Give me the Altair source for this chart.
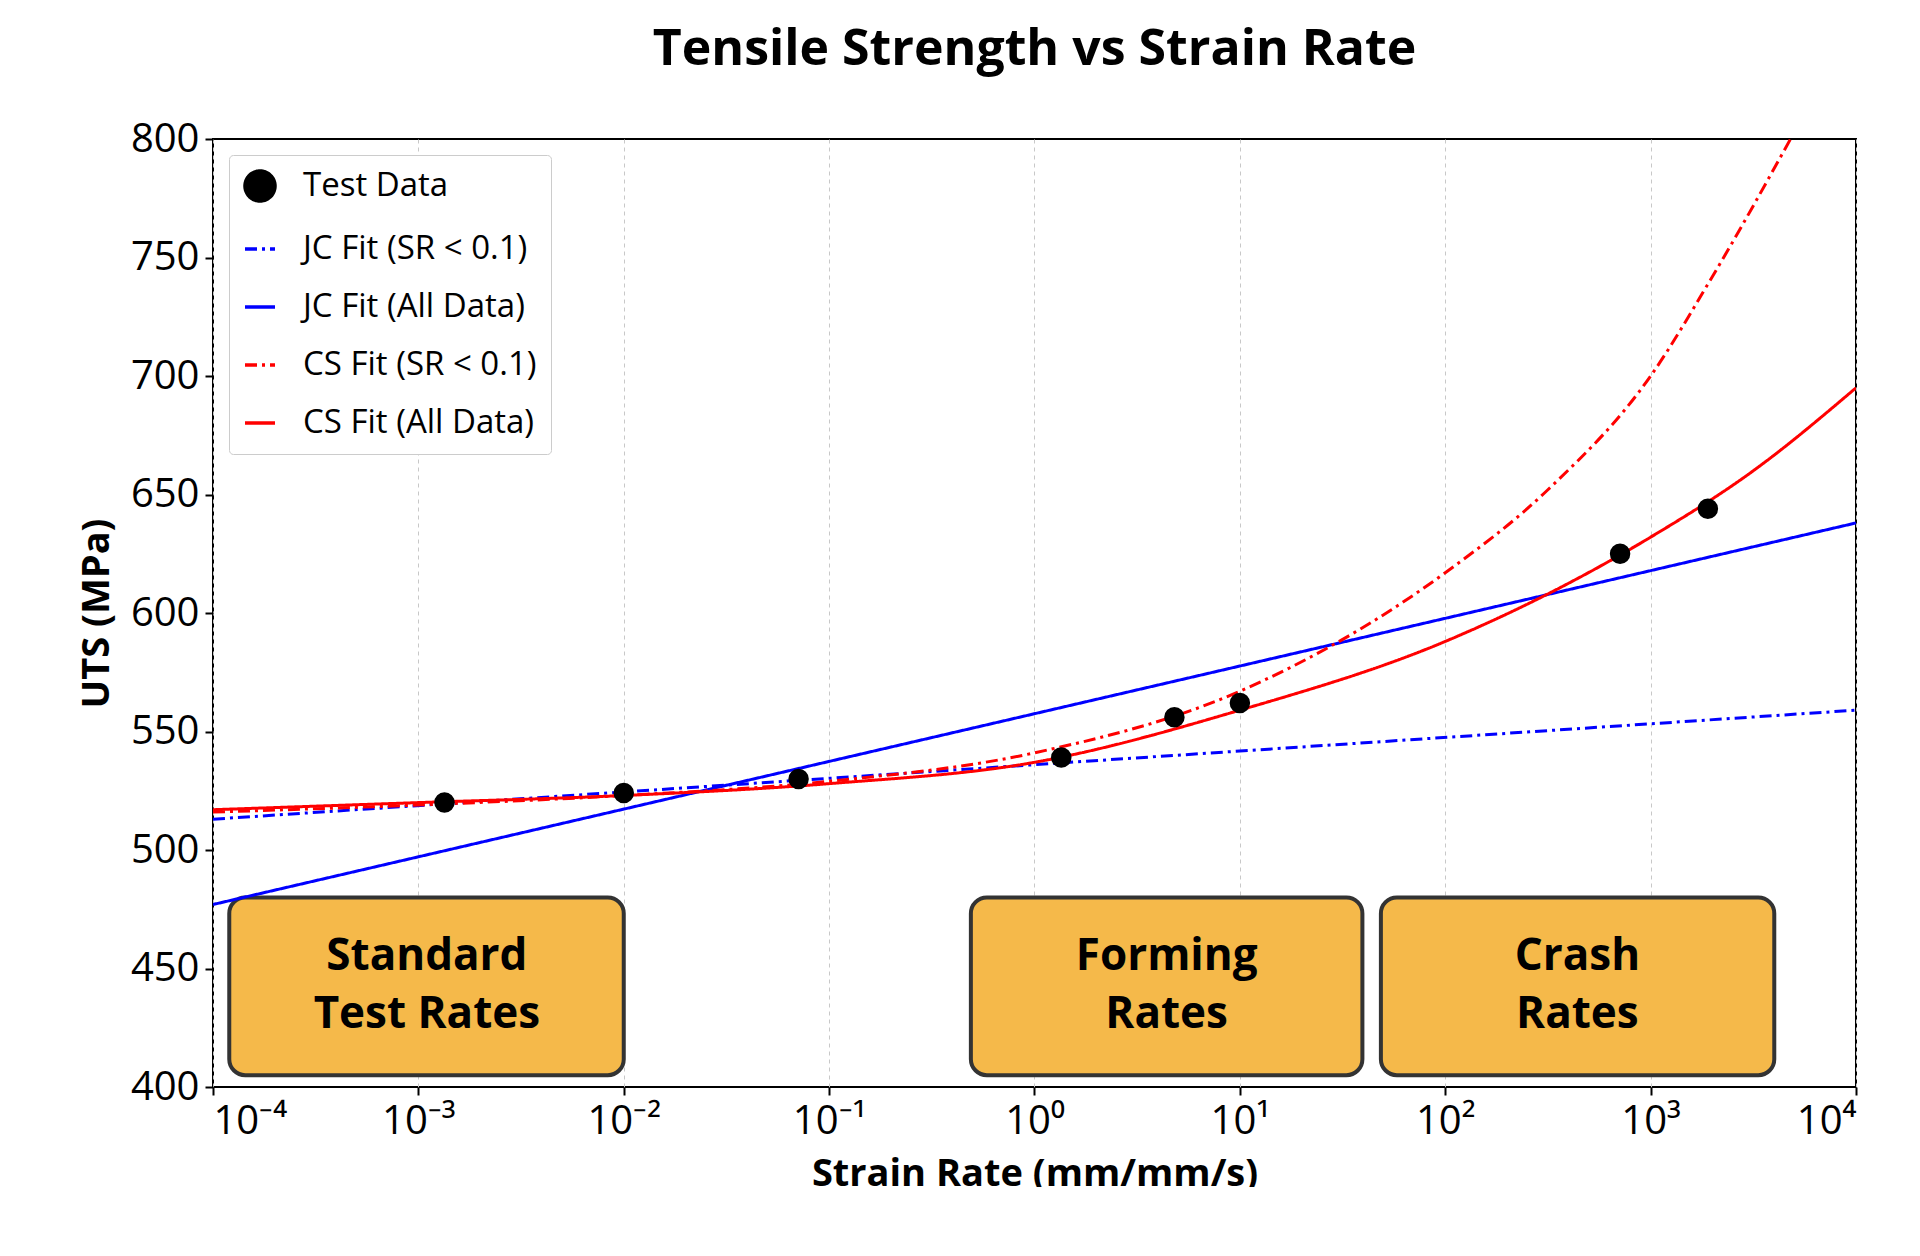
import altair as alt
import pandas as pd

# test points
test_sr = [1.34e-3, 0.01, 0.071, 1.35, 4.8, 10, 710, 1900]
test_uts = [520, 524, 530, 539, 556, 562, 625, 644]

# fitted curves
jc_low_sr = [1e-4, 1e4]
jc_low_uts = [513, 559]
jc_all_sr = [1e-4, 1e4]
jc_all_uts = [477, 638]
cs_low_sr = [1e-4, 1e-3, 1e-2, 1e-1, 1, 10, 100, 316, 1000, 2000, 4800]
cs_low_uts = [516, 519, 523, 529, 541, 567, 617, 652, 700, 742, 800]
cs_all_sr = [1e-4, 1e-3, 1e-2, 1e-1, 1, 10, 100, 1000, 3160, 1e4]
cs_all_uts = [517, 520, 523, 528, 537, 559, 588, 632, 660, 695]

series = ["Test Data", "JC Fit (SR < 0.1)", "JC Fit (All Data)", "CS Fit (SR < 0.1)", "CS Fit (All Data)"]
colors = ["black", "#0000ff", "#0000ff", "#ff0000", "#ff0000"]
dashes = [[1, 0], [12, 5, 3, 5], [1, 0], [12, 5, 3, 5], [1, 0]]
shapes = ["circle", "stroke", "stroke", "stroke", "stroke"]

# shaded regime boxes
box_lo = [1.2e-4, 0.49, 48.6]
box_hi = [0.01, 39.5, 4000]
box_bottom = [405, 405, 405]
box_top = [480, 480, 480]
box_label = [["Standard", "Test Rates"], ["Forming", "Rates"], ["Crash", "Rates"]]
box_mid = [1.1e-3, 4.4, 440]
box_center = [442.5, 442.5, 442.5]

rows = []
for name, xs, ys in [(series[1], jc_low_sr, jc_low_uts), (series[2], jc_all_sr, jc_all_uts),
                     (series[3], cs_low_sr, cs_low_uts), (series[4], cs_all_sr, cs_all_uts)]:
    rows += [{"series": name, "sr": x, "uts": y} for x, y in zip(xs, ys)]
fits = pd.DataFrame(rows)
pts = pd.DataFrame({"series": "Test Data", "sr": test_sr, "uts": test_uts})
boxes = pd.DataFrame({"lo": box_lo, "hi": box_hi, "uts": box_bottom, "top": box_top,
                      "label": box_label, "mid": box_mid, "center": box_center})

sup = "{'-4':'⁻⁴','-3':'⁻³','-2':'⁻²','-1':'⁻¹','0':'⁰','1':'¹','2':'²','3':'³','4':'⁴'}"
xscale = alt.Scale(type="log", domain=[1e-4, 1e4], nice=False)
xaxis = alt.Axis(title="Strain Rate (mm/mm/s)", values=[10.0 ** k for k in range(-4, 5)],
                 labelExpr=f"'10' + {sup}[toString(round(log(datum.value)/LN10))]",
                 grid=True, gridDash=[4, 4], gridColor="#c8c8c8", tickSize=8)
yscale = alt.Scale(domain=[400, 800], nice=False, range=[948, 0])
yaxis = alt.Axis(title="UTS (MPa)", values=list(range(400, 801, 50)), grid=False, tickSize=8)
x = alt.X("sr:Q", scale=xscale, axis=xaxis)
y = alt.Y("uts:Q", scale=yscale, axis=yaxis)

leg = alt.Legend(title=None, orient="top-left", fillColor="white", strokeColor="#cccccc",
                 padding=14, cornerRadius=4, labelFontSize=33, symbolSize=900, labelLimit=0,
                 symbolStrokeWidth=3.5, rowPadding=24, offset=16, labelOffset=26)
col = alt.Color("series:N", scale=alt.Scale(domain=series, range=colors), legend=leg)
dash = alt.StrokeDash("series:N", scale=alt.Scale(domain=series, range=dashes), legend=leg)
shp = alt.Shape("series:N", scale=alt.Scale(domain=series, range=shapes), legend=leg)

lines = alt.Chart(fits).mark_line(strokeWidth=3, interpolate="monotone", clip=True).encode(
    x=x, y=y, color=col, strokeDash=dash, shape=shp, detail="series:N")
points = alt.Chart(pts).mark_point(filled=True, size=420, opacity=1).encode(
    x=x, y=y, color=col, shape=shp, strokeDash=dash)

rects = alt.Chart(boxes).mark_rect(color="#f5b94a", stroke="#333333", strokeWidth=4,
                                   cornerRadius=16).encode(
    x=alt.X("lo:Q", scale=xscale, axis=xaxis), x2="hi", y=y, y2="top")
texts = alt.Chart(boxes).mark_text(fontSize=44, fontWeight="bold", color="black",
                                   lineHeight=58, baseline="middle", dy=-29).encode(
    x=alt.X("mid:Q", scale=xscale, axis=xaxis),
    y=alt.Y("center:Q", scale=yscale, axis=yaxis), text="label")

chart = alt.layer(rects, texts, lines, points).properties(
    width=1643, height=948,
    title=alt.TitleParams("Tensile Strength vs Strain Rate", fontSize=50, fontWeight="bold", offset=44),
    padding={"left": 205, "top": 131, "right": 50, "bottom": 100},
    autosize=alt.AutoSizeParams(type="none"),
).configure(font="Open Sans").configure_axis(
    labelFontSize=40, titleFontSize=38, titleFontWeight="bold", labelColor="black",
    titleColor="black", domain=False, tickColor="black", tickWidth=2, labelPadding=6,
    titlePadding=14,
).configure_view(stroke="black", strokeWidth=2)

chart.save("out.html", embed_options={"renderer": "svg", "actions": False})
